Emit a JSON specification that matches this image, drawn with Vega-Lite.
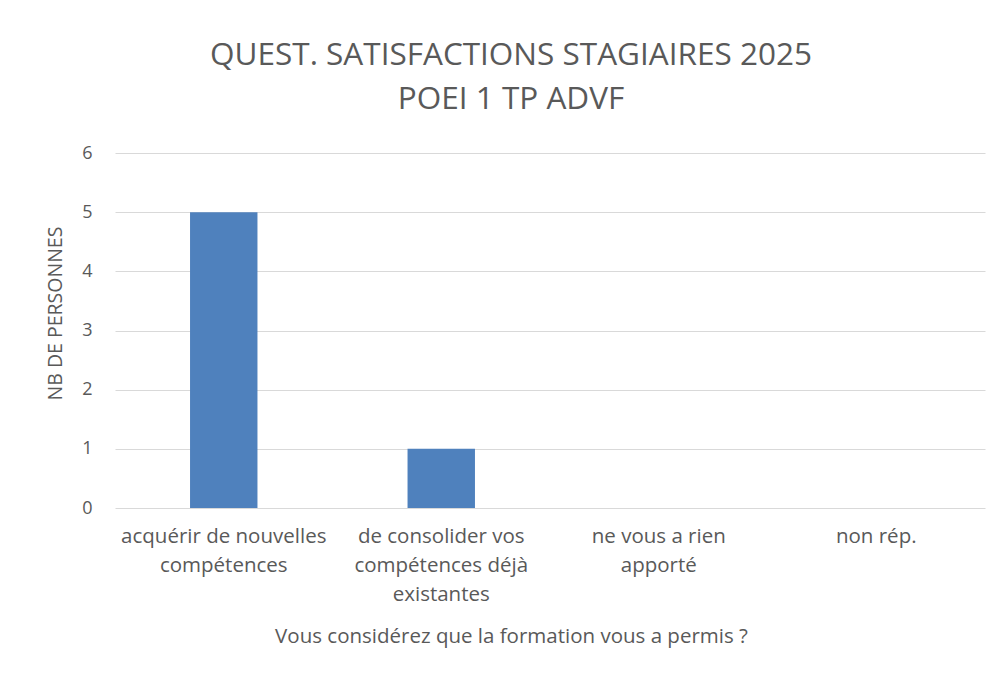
{
  "$schema": "https://vega.github.io/schema/vega-lite/v6.json",
  "autosize": "none",
  "width": 870,
  "height": 355,
  "padding": {"left": 115, "top": 153, "right": 18, "bottom": 168},
  "background": "white",
  "title": {
    "text": ["QUEST. SATISFACTIONS STAGIAIRES 2025", "POEI 1 TP ADVF"],
    "anchor": "middle",
    "dx": -39,
    "offset": 29,
    "font": "Open Sans",
    "fontSize": 31.5,
    "fontWeight": "normal",
    "lineHeight": 44,
    "color": "#595959"
  },
  "data": {
    "values": [
      {"categorie": "acquérir de nouvelles|compétences", "nb": 5},
      {"categorie": "de consolider vos|compétences déjà|existantes", "nb": 1},
      {"categorie": "ne vous a rien|apporté", "nb": 0},
      {"categorie": "non rép.", "nb": 0}
    ]
  },
  "mark": {"type": "bar", "color": "#4F81BD"},
  "encoding": {
    "x": {
      "field": "categorie",
      "type": "nominal",
      "sort": null,
      "scale": {"paddingInner": 0.69, "paddingOuter": 0.345},
      "axis": {
        "title": "Vous considérez que la formation vous a permis ?",
        "labelExpr": "split(datum.label, '|')",
        "labelAngle": 0,
        "labelFont": "Open Sans",
        "labelFontSize": 20.5,
        "labelColor": "#595959",
        "labelLineHeight": 29,
        "labelPadding": 18,
        "labelBaseline": "top",
        "labelLimit": 0,
        "ticks": false,
        "domain": false,
        "titleFont": "Open Sans",
        "titleFontSize": 20.5,
        "titleFontWeight": "normal",
        "titleColor": "#595959",
        "titleX": 396,
        "titlePadding": 22
      }
    },
    "y": {
      "field": "nb",
      "type": "quantitative",
      "scale": {"domain": [0, 6], "nice": false},
      "axis": {
        "title": "NB DE PERSONNES",
        "values": [0, 1, 2, 3, 4, 5, 6],
        "format": "d",
        "labelFont": "Open Sans",
        "labelFontSize": 18,
        "labelColor": "#595959",
        "labelPadding": 23,
        "ticks": false,
        "domain": false,
        "gridColor": "#D9D9D9",
        "gridWidth": 1,
        "titleFont": "Open Sans",
        "titleFontSize": 19.5,
        "titleFontWeight": "normal",
        "titleColor": "#595959",
        "titleY": 160,
        "titlePadding": 16
      }
    }
  },
  "config": {"view": {"stroke": null}}
}
